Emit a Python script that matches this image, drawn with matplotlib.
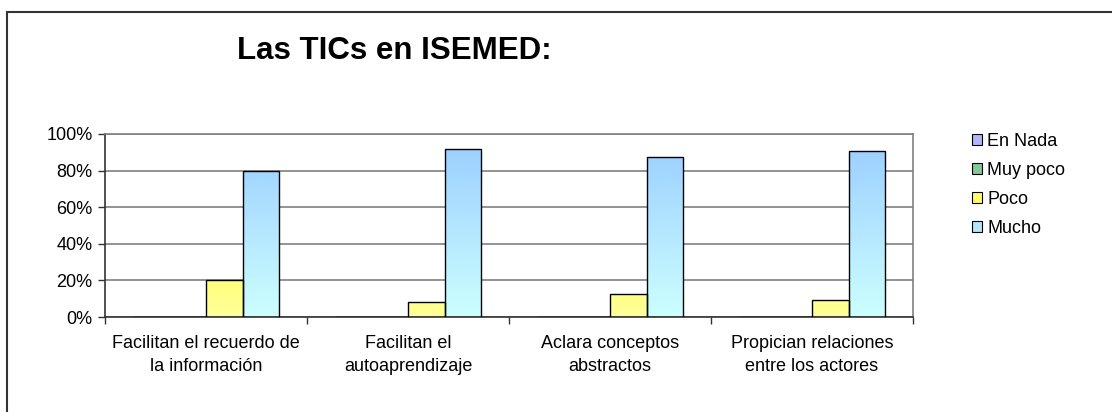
import matplotlib
matplotlib.use("Agg")
import matplotlib.pyplot as plt
import numpy as np
from matplotlib.patches import Rectangle
from matplotlib.colors import LinearSegmentedColormap

plt.rcParams['font.family'] = ['Liberation Sans', 'DejaVu Sans']

categories = ["Facilitan el recuerdo de\nla información",
              "Facilitan el\nautoaprendizaje",
              "Aclara conceptos\nabstractos",
              "Propician relaciones\nentre los actores"]
series_names = ["En Nada", "Muy poco", "Poco", "Mucho"]
en_nada = [0, 0, 0, 0]
muy_poco = [0, 0, 0, 0]
poco = [20.0, 8.3, 12.5, 9.1]
mucho = [80.0, 91.7, 87.5, 90.9]
yticks = [0, 20, 40, 60, 80, 100]
title = "Las TICs en ISEMED:"

series = [en_nada, muy_poco, poco, mucho]
# gradient (top colour, bottom colour) for each series
grads = [("#8080ff", "#ccccff"),
         ("#339966", "#ccffcc"),
         ("#ffff00", "#ffff99"),
         ("#99ccff", "#ccffff")]
legend_cols = ["#b3b3ff", "#80c99a", "#ffff66", "#b3e6ff"]

FS = 13

fig = plt.figure(figsize=(11.12, 4.12), dpi=100)
W, H = 1112, 412
ax = fig.add_axes([105 / W, 1 - 317 / H, (913 - 105) / W, (317 - 134) / H])

# outer frame (chart border)
fig.patches.append(Rectangle((7 / W, -0.1), 1.2, 1 - 12 / H + 0.1,
                             transform=fig.transFigure, fill=False,
                             edgecolor="#333333", linewidth=1.5, zorder=0))

x = np.arange(len(categories))
w = 1 / 5.5
offsets = (np.arange(4) - 1.5) * w

for i, (vals, (ctop, cbot)) in enumerate(zip(series, grads)):
    bars = ax.bar(x + offsets[i], vals, width=w, facecolor="none",
                  edgecolor="black", linewidth=1.0, zorder=3)
    cmap = LinearSegmentedColormap.from_list("g%d" % i, [cbot, ctop])
    grad = np.linspace(0, 1, 256).reshape(-1, 1)
    for b in bars:
        h = b.get_height()
        if h <= 0:
            continue
        x0 = b.get_x()
        im = ax.imshow(grad, cmap=cmap, origin="lower", aspect="auto",
                       extent=(x0, x0 + b.get_width(), 0, 100), zorder=2,
                       interpolation="bilinear")
        im.set_clip_path(b)

ax.set_xlim(-0.5, len(categories) - 0.5)
ax.set_ylim(0, 100)
ax.set_yticks(yticks)
ax.set_yticklabels(["%d%%" % v for v in yticks], fontsize=FS)
ax.yaxis.grid(True, color="#808080", linewidth=1.2, zorder=1)
ax.set_axisbelow(True)

ax.set_xticks(np.arange(len(categories) + 1) - 0.5)
ax.set_xticklabels([])
ax.set_xticks(x, minor=True)
ax.set_xticklabels(categories, minor=True, fontsize=FS, linespacing=1.45)
ax.tick_params(axis="x", which="minor", length=0, pad=13)
ax.tick_params(axis="x", which="major", length=5, width=1, color="#333333")
ax.tick_params(axis="y", length=5, width=1, pad=4, color="#333333")

for s in ["top", "right"]:
    ax.spines[s].set_color("#808080")
    ax.spines[s].set_linewidth(1.2)
for s in ["left", "bottom"]:
    ax.spines[s].set_color("#333333")
    ax.spines[s].set_linewidth(1.2)

fig.text(394 / W, 1 - 51 / H, title, fontsize=22.5, fontweight="bold",
         ha="center", va="center")

handles = [Rectangle((0, 0), 1, 1, facecolor=c, edgecolor="black", linewidth=0.8)
           for c in legend_cols]
fig.legend(handles, series_names, loc="upper left",
           bbox_to_anchor=(972 / W, 1 - 133 / H), frameon=False, fontsize=FS,
           handlelength=0.55, handleheight=0.55, handletextpad=0.3,
           labelspacing=0.66, borderaxespad=0, borderpad=0)

fig.savefig("out.png", dpi=100, facecolor="white")
